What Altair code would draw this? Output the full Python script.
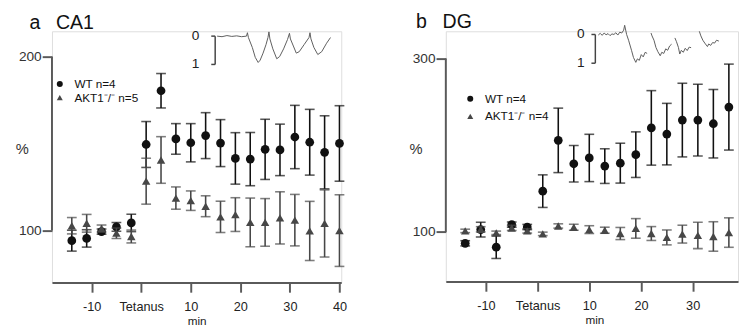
import altair as alt
import pandas as pd

FONT = "Liberation Sans"
AXC = "#5a5a5a"
WT_COL = "#111111"
KO_COL = "#474747"

# ---------------- Panel a (CA1) ----------------
minutes_a = [-14, -11, -8, -5, -2, 1, 4, 7, 10, 13, 16, 19, 22, 25, 28, 31, 34, 37, 40]
wt_a = [94.2, 95.5, 99.4, 102.1, 104.4, 149.5, 180.4, 152.7, 150.5, 154.6, 150.3, 141.5, 141.1, 146.7, 146.4, 153.8, 150.8, 145.0, 150.1]
wt_a_err = [6.0, 5.0, 1.5, 2.5, 5.0, 13.2, 9.9, 8.8, 11.0, 13.2, 13.5, 14.8, 15.3, 17.3, 14.8, 18.2, 18.9, 21.0, 21.7]
ko_a = [102.8, 104.2, 101.2, 98.5, 96.6, 128.4, 140.6, 118.7, 117.2, 114.0, 107.9, 109.2, 104.7, 104.7, 107.3, 106.0, 99.8, 104.1, 100.0]
ko_a_err = [4.7, 5.1, 2.0, 3.0, 3.7, 13.2, 13.4, 6.4, 5.6, 6.0, 9.0, 9.7, 14.0, 13.7, 15.0, 14.8, 17.0, 19.3, 20.6]
labels_a = ["WT n=4", "AKT1\u207b/\u207b n=5"]
title_a = ["a", "CA1"]

trace_a_t = [0, 5, 10, 15, 20, 25, 30, 31, 32, 36, 39, 42, 44, 47, 50, 52, 53, 54, 57, 61, 64, 68, 72,
             74, 75, 78, 81, 84, 89, 94, 95, 96, 99, 103, 107, 112, 116]
trace_a_amp = [0.0, 0.02, -0.02, 0.01, -0.01, 0.02, 0.0, -0.12, 0.05, 0.4, 0.75, 0.93, 0.85, 0.6, 0.3, 0.05,
               -0.15, 0.1, 0.45, 0.8, 0.72, 0.45, 0.12, -0.1, 0.1, 0.35, 0.6, 0.55, 0.3, 0.05,
               -0.12, 0.1, 0.4, 0.65, 0.55, 0.25, 0.05]
trace_a_sweep = [1] * 37

# ---------------- Panel b (DG) ----------------
minutes_b = [-14, -11, -8, -5, -2, 1, 4, 7, 10, 13, 16, 19, 22, 25, 28, 31, 34, 37]
wt_b = [86.8, 102.6, 82.3, 108.3, 105.6, 147.0, 205.6, 178.6, 185.3, 175.9, 179.3, 189.1, 220.0, 212.8, 229.0, 229.0, 224.8, 244.0]
wt_b_err = [3.0, 8.5, 13.0, 3.0, 3.0, 18.8, 37.2, 21.0, 27.3, 20.0, 23.0, 26.3, 43.0, 35.5, 42.5, 41.4, 39.5, 49.6]
ko_b = [101.1, 103.0, 98.9, 104.5, 101.1, 97.7, 106.8, 105.3, 102.6, 101.9, 98.1, 104.0, 98.1, 93.6, 97.4, 95.9, 94.7, 99.2]
ko_b_err = [2.0, 3.0, 2.0, 3.0, 2.5, 2.0, 2.5, 3.5, 4.5, 3.5, 7.0, 11.3, 8.0, 8.6, 10.3, 15.2, 17.0, 17.0]
labels_b = ["WT n=4", "AKT1\u207b/\u207b n=4"]
title_b = ["b", "DG"]

trace_b_t = [0, 2, 4, 6, 8, 10, 12, 14, 16, 18, 20, 22, 24, 26, 27,
             29, 31, 34, 36, 38.4, 40, 42, 44, 46, 48, 50,
             54, 55, 57, 59, 61, 63.4, 65, 67, 69, 71, 73, 75,
             78.4, 80, 82, 83.4, 85, 87, 89, 91, 93, 95,
             103.4, 105, 107, 109, 111.7, 113, 115, 117, 119, 121, 123.4]
trace_b_amp = [0.02, -0.04, 0.03, -0.05, 0.01, -0.03, 0.04, -0.02, 0.0, -0.06, 0.02, -0.08, -0.05, -0.15, -0.32,
               0.0, 0.2, 0.55, 0.8, 0.97, 0.85, 0.9, 0.7, 0.78, 0.62, 0.66,
               -0.05, 0.05, 0.2, 0.45, 0.6, 0.74, 0.62, 0.66, 0.5, 0.55, 0.4, 0.34,
               0.12, 0.25, 0.45, 0.68, 0.55, 0.62, 0.48, 0.56, 0.44, 0.46,
               -0.11, 0.05, 0.2, 0.3, 0.42, 0.33, 0.38, 0.28, 0.3, 0.2, 0.23]
trace_b_sweep = [1] * 26 + [2] * 12 + [3] * 10 + [4] * 11

scalebar_labels = ["0", "1"]
scalebar_amp = [0, 1]


def panel(minutes, wt, wt_err, ko, ko_err, labels, xdom, xticks, ydom, yticks,
          width, height, tr_t, tr_amp, tr_sweep, tdom, adom, bar_t, lab_t,
          title, title_t, title_amp, leg_x, leg_y, leg_pad, ytitle_x, ytitle_y, min_x):
    rows = []
    for m, v, e in zip(minutes, wt, wt_err):
        rows.append({"minute": m, "val": v, "lo": v - e, "hi": v + e, "group": labels[0]})
    for m, v, e in zip(minutes, ko, ko_err):
        rows.append({"minute": m, "val": v, "lo": v - e, "hi": v + e, "group": labels[1]})
    df = pd.DataFrame(rows)

    xaxis = alt.Axis(values=xticks, labelExpr="datum.value == 0 ? 'Tetanus' : '' + datum.value",
                     grid=False, domain=True, domainWidth=2, domainColor=AXC, tickSize=10, tickWidth=2,
                     tickColor=AXC, labelFontSize=13, labelColor="#222", labelPadding=9,
                     labelOverlap=False, labelFlush=False, labelFont=FONT,
                     title="min", titleFontSize=12, titleFontWeight="normal", titleFont=FONT,
                     titleColor="#222", titlePadding=2, titleX=min_x)
    yaxis = alt.Axis(values=yticks, domain=False, domainOpacity=0, grid=False, tickSize=10, tickWidth=2,
                     tickColor=AXC, labelFontSize=14, labelColor="#333", labelPadding=1,
                     labelFont=FONT, title="%", titleAngle=0, titleX=ytitle_x, titleY=ytitle_y,
                     titleFontSize=15, titleFontWeight="normal", titleFont=FONT, titleColor="#333",
                     titleAlign="center", titleBaseline="middle")
    xs = alt.Scale(domain=xdom, nice=False, zero=False, padding=0)
    ys = alt.Scale(domain=ydom, nice=False, zero=False, padding=0)

    def X(field="minute"):
        return alt.X(f"{field}:Q", scale=xs, axis=xaxis, title="min")

    def Y(field):
        return alt.Y(f"{field}:Q", scale=ys, axis=yaxis, title="%")

    base = alt.Chart(df)
    axis_line = alt.Chart(pd.DataFrame({"minute": [xdom[0]], "lo": [yticks[0]], "hi": [yticks[-1]]})).mark_rule(
        color=AXC, strokeWidth=2).encode(x=X(), y=Y("lo"), y2="hi:Q")

    layers = [axis_line]
    for lab, col, sz in [(labels[0], WT_COL, 80), (labels[1], KO_COL, 75)]:
        sub = base.transform_filter(alt.datum.group == lab)
        layers.append(sub.mark_errorbar(ticks=True, size=10, thickness=1.6, color=col).encode(
            x=X(), y=Y("lo"), y2="hi:Q"))
        layers.append(sub.mark_point(filled=True, opacity=1, size=sz).encode(
            x=X(), y=Y("val"),
            color=alt.Color("group:N", scale=alt.Scale(domain=labels, range=[WT_COL, KO_COL]),
                            legend=alt.Legend(orient="none", legendX=leg_x, legendY=leg_y, title=None,
                                              symbolSize=38, labelFontSize=12, labelFont=FONT,
                                              labelColor="#111", rowPadding=leg_pad, padding=0,
                                              labelOffset=9)),
            shape=alt.Shape("group:N", scale=alt.Scale(domain=labels, range=["circle", "triangle-up"]))))
    main = alt.layer(*layers)

    # inset trace (own scales), scale bar and panel label
    ts = alt.Scale(domain=tdom, nice=False, zero=False, padding=0)
    as_ = alt.Scale(domain=adom, nice=False, zero=False, reverse=True, padding=0)
    TX = alt.X("t:Q", scale=ts, axis=None)
    TY = alt.Y("amp:Q", scale=as_, axis=None)
    tr = pd.DataFrame({"t": tr_t, "amp": tr_amp, "sweep": tr_sweep})
    trace = alt.Chart(tr).mark_line(color="#5c5c5c", strokeWidth=1).encode(x=TX, y=TY, detail="sweep:N")
    bar_df = pd.DataFrame({"t": [bar_t - 4, bar_t, bar_t - 4], "t2": [bar_t, bar_t, bar_t],
                           "amp": [0, 0, 1], "amp2": [0, 1, 1]})
    bracket = alt.Chart(bar_df).mark_rule(color="#444", strokeWidth=1.5).encode(
        x=TX, x2="t2:Q", y=TY, y2="amp2:Q")
    lab_df = pd.DataFrame({"t": [lab_t, lab_t], "amp": scalebar_amp, "txt": scalebar_labels})
    bar_text = alt.Chart(lab_df).mark_text(fontSize=14, font=FONT, color="#222", align="center",
                                            baseline="middle").encode(x=TX, y=TY, text="txt:N")
    ttl_df = pd.DataFrame({"t": title_t, "amp": [title_amp] * 2, "txt": title})
    ttl = alt.Chart(ttl_df).mark_text(fontSize=20, font=FONT, color="#111", align="left",
                                       baseline="alphabetic").encode(x=TX, y=TY, text="txt:N")
    inset = alt.layer(trace, bracket, bar_text, ttl)

    return alt.layer(main, inset).resolve_scale(x="independent", y="independent").properties(
        width=width, height=height)


pa = panel(minutes_a, wt_a, wt_a_err, ko_a, ko_a_err, labels_a,
           xdom=[-18.0, 40.36], xticks=[-10, 0, 10, 20, 30, 40], ydom=[70.2, 214.6], yticks=[100, 200],
           width=296, height=257, tr_t=trace_a_t, tr_amp=trace_a_amp, tr_sweep=trace_a_sweep,
           tdom=[-169, 127], adom=[-0.172, 8.70], bar_t=-2, lab_t=-22,
           title=title_a, title_t=[-192, -165], title_amp=-0.24, leg_x=2, leg_y=48, leg_pad=2,
           ytitle_x=-31, ytitle_y=120, min_x=148)

pb = panel(minutes_b, wt_b, wt_b_err, ko_b, ko_b_err, labels_b,
           xdom=[-17.75, 38.77], xticks=[-10, 0, 10, 20, 30], ydom=[42.8, 331.5], yticks=[100, 300],
           width=299, height=256, tr_t=trace_b_t, tr_amp=trace_b_amp, tr_sweep=trace_b_sweep,
           tdom=[-156, 143], adom=[-0.112, 8.595], bar_t=-3, lab_t=-18,
           title=title_b, title_t=[-186.6, -159.3], title_amp=-0.21, leg_x=19, leg_y=63, leg_pad=6,
           ytitle_x=-31, ytitle_y=120, min_x=152)

chart = alt.hconcat(pa, pb, spacing=62).resolve_scale(color="independent", shape="independent").properties(
    padding={"left": 6, "top": 0, "right": 0, "bottom": 4}
).configure_view(stroke="transparent", strokeWidth=0, strokeOpacity=0
).configure_axisY(domain=False, domainOpacity=0).configure(font=FONT)

chart.save("out.html", embed_options={"renderer": "svg", "actions": False})
